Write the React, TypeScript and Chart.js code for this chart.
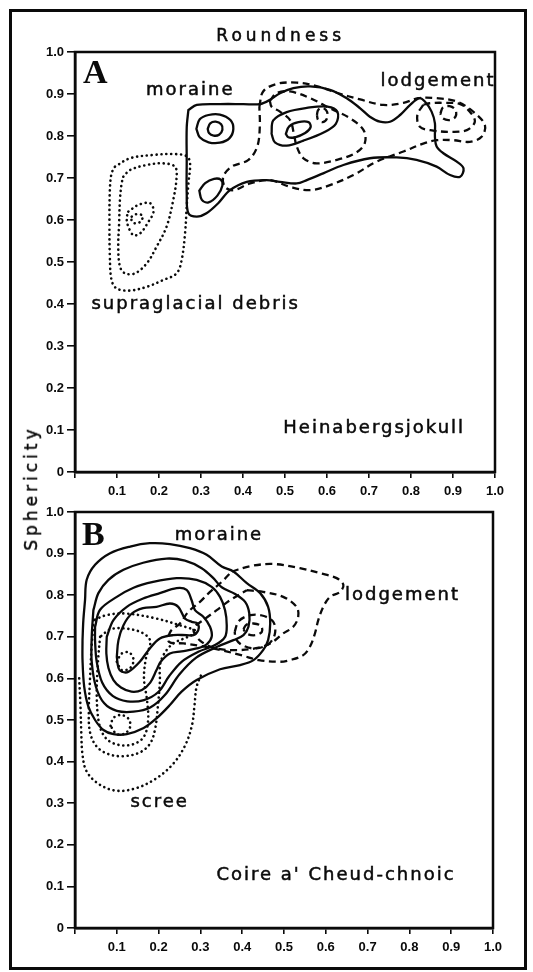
import React, { useEffect, useRef } from "react";
import { Chart, registerables } from "chart.js";

Chart.register(...registerables);

type Pt = [number, number];
type Kind = "solid" | "dashed" | "dotted";

// ---- axis ticks -----------------------------------------------------------
const tickValues = [0, 0.1, 0.2, 0.3, 0.4, 0.5, 0.6, 0.7, 0.8, 0.9, 1.0];
const yTickLabels = ["0", "0.1", "0.2", "0.3", "0.4", "0.5", "0.6", "0.7", "0.8", "0.9", "1.0"];
const xTickLabels = ["", "0.1", "0.2", "0.3", "0.4", "0.5", "0.6", "0.7", "0.8", "0.9", "1.0"];

// ---- A: Heinabergsjokull (x = roundness, y = sphericity) -------------------
const moraineA1: Pt[] = [
  [0.270, 0.862], [0.290, 0.874], [0.345, 0.876], [0.401, 0.876], [0.440, 0.876], [0.464, 0.886],
  [0.488, 0.902], [0.520, 0.914], [0.560, 0.918], [0.607, 0.910], [0.647, 0.890], [0.679, 0.866],
  [0.702, 0.846], [0.726, 0.834], [0.750, 0.834], [0.774, 0.850], [0.798, 0.874], [0.820, 0.890],
  [0.833, 0.882], [0.849, 0.858], [0.857, 0.830], [0.857, 0.798], [0.861, 0.775], [0.877, 0.759],
  [0.909, 0.739], [0.925, 0.723], [0.917, 0.703], [0.893, 0.707], [0.861, 0.727], [0.813, 0.743],
  [0.766, 0.749], [0.702, 0.747], [0.639, 0.731], [0.591, 0.711], [0.552, 0.695], [0.528, 0.687],
  [0.488, 0.691], [0.456, 0.695], [0.409, 0.691], [0.369, 0.671], [0.341, 0.640], [0.313, 0.616],
  [0.290, 0.608], [0.270, 0.616], [0.266, 0.663], [0.266, 0.740], [0.266, 0.820],
];
const moraineA2: Pt[] = [
  [0.289, 0.817], [0.297, 0.840], [0.318, 0.850], [0.345, 0.851], [0.370, 0.838], [0.377, 0.817],
  [0.368, 0.795], [0.345, 0.784], [0.318, 0.785], [0.297, 0.797],
];
const moraineA3: Pt[] = [
  [0.316, 0.817], [0.322, 0.830], [0.335, 0.834], [0.348, 0.828], [0.351, 0.815], [0.343, 0.803],
  [0.330, 0.801], [0.319, 0.807],
];
const moraineA4: Pt[] = [
  [0.296, 0.670], [0.302, 0.648], [0.318, 0.642], [0.339, 0.658], [0.351, 0.682], [0.347, 0.696],
  [0.331, 0.698], [0.310, 0.688],
];
const moraineA5: Pt[] = [
  [0.468, 0.805], [0.472, 0.837], [0.504, 0.857], [0.552, 0.867], [0.601, 0.870], [0.625, 0.857],
  [0.621, 0.829], [0.593, 0.809], [0.544, 0.789], [0.504, 0.777], [0.476, 0.785],
];
const moraineA6: Pt[] = [
  [0.502, 0.805], [0.510, 0.823], [0.532, 0.833], [0.556, 0.833], [0.561, 0.821], [0.548, 0.807],
  [0.524, 0.797], [0.508, 0.797],
];
const lodgementA1: Pt[] = [
  [0.439, 0.870], [0.448, 0.906], [0.480, 0.924], [0.528, 0.927], [0.575, 0.919], [0.623, 0.903],
  [0.679, 0.887], [0.734, 0.874], [0.782, 0.879], [0.817, 0.890], [0.861, 0.890], [0.909, 0.882],
  [0.948, 0.858], [0.976, 0.826], [0.968, 0.798], [0.940, 0.786], [0.901, 0.790], [0.861, 0.790],
  [0.829, 0.782], [0.782, 0.763], [0.718, 0.739], [0.663, 0.707], [0.607, 0.683], [0.560, 0.671],
  [0.512, 0.679], [0.464, 0.695], [0.417, 0.687], [0.377, 0.671], [0.357, 0.679], [0.353, 0.703],
  [0.373, 0.727], [0.413, 0.743], [0.434, 0.775], [0.440, 0.822],
];
const lodgementA2: Pt[] = [
  [0.464, 0.884], [0.480, 0.902], [0.512, 0.906], [0.560, 0.890], [0.607, 0.866], [0.655, 0.842],
  [0.687, 0.814], [0.690, 0.783], [0.667, 0.759], [0.623, 0.743], [0.575, 0.735], [0.544, 0.747],
  [0.528, 0.775], [0.521, 0.806], [0.512, 0.838], [0.488, 0.858], [0.468, 0.870],
];
const lodgementA3: Pt[] = [
  [0.576, 0.850], [0.579, 0.862], [0.590, 0.867], [0.600, 0.858], [0.600, 0.842], [0.590, 0.833],
  [0.579, 0.838],
];
const lodgementA4: Pt[] = [
  [0.829, 0.874], [0.815, 0.850], [0.821, 0.822], [0.853, 0.813], [0.893, 0.810], [0.933, 0.814],
  [0.952, 0.834], [0.940, 0.858], [0.917, 0.876], [0.877, 0.879], [0.845, 0.878],
];
const lodgementA5: Pt[] = [
  [0.870, 0.853], [0.876, 0.868], [0.892, 0.871], [0.906, 0.862], [0.906, 0.846], [0.892, 0.838],
  [0.876, 0.842],
];
const debrisA1: Pt[] = [
  [0.095, 0.727], [0.131, 0.747], [0.187, 0.755], [0.234, 0.757], [0.266, 0.752], [0.274, 0.735],
  [0.270, 0.687], [0.266, 0.632], [0.262, 0.568], [0.254, 0.505], [0.242, 0.473], [0.210, 0.457],
  [0.171, 0.441], [0.131, 0.432], [0.099, 0.437], [0.087, 0.457], [0.083, 0.513], [0.082, 0.592],
  [0.083, 0.671], [0.087, 0.711],
];
const debrisA2: Pt[] = [
  [0.115, 0.703], [0.131, 0.719], [0.171, 0.731], [0.210, 0.735], [0.238, 0.727], [0.242, 0.703],
  [0.234, 0.648], [0.218, 0.584], [0.194, 0.536], [0.171, 0.497], [0.143, 0.473], [0.119, 0.473],
  [0.107, 0.489], [0.103, 0.536], [0.105, 0.592], [0.107, 0.648], [0.111, 0.687],
];
const debrisA3: Pt[] = [
  [0.127, 0.620], [0.151, 0.636], [0.179, 0.640], [0.187, 0.620], [0.175, 0.596], [0.155, 0.568],
  [0.139, 0.564], [0.127, 0.584], [0.123, 0.604],
];
const debrisA4: Pt[] = [
  [0.135, 0.608], [0.147, 0.614], [0.161, 0.610], [0.156, 0.596], [0.143, 0.592], [0.135, 0.598],
];

// ---- B: Coire a' Cheud-chnoic ----------------------------------------------
const moraineB1: Pt[] = [
  [0.018, 0.692], [0.020, 0.740], [0.024, 0.788], [0.028, 0.837], [0.048, 0.873], [0.084, 0.901],
  [0.132, 0.917], [0.179, 0.925], [0.227, 0.923], [0.275, 0.913], [0.315, 0.897], [0.351, 0.869],
  [0.379, 0.857], [0.411, 0.829], [0.443, 0.805], [0.462, 0.772], [0.467, 0.732], [0.462, 0.692],
  [0.450, 0.668], [0.427, 0.644], [0.395, 0.632], [0.347, 0.622], [0.291, 0.596], [0.255, 0.568],
  [0.227, 0.536], [0.195, 0.504], [0.163, 0.480], [0.124, 0.466], [0.092, 0.466], [0.068, 0.476],
  [0.048, 0.500], [0.032, 0.532], [0.022, 0.580], [0.018, 0.644],
];
const moraineB2: Pt[] = [
  [0.044, 0.764], [0.056, 0.805], [0.080, 0.837], [0.116, 0.861], [0.163, 0.878], [0.219, 0.888],
  [0.263, 0.883], [0.303, 0.865], [0.331, 0.841], [0.351, 0.819], [0.383, 0.803], [0.407, 0.784],
  [0.417, 0.756], [0.415, 0.724], [0.403, 0.704], [0.379, 0.692], [0.340, 0.676], [0.290, 0.650],
  [0.250, 0.610], [0.215, 0.560], [0.180, 0.530], [0.140, 0.520], [0.100, 0.522], [0.070, 0.540],
  [0.050, 0.580], [0.040, 0.640], [0.040, 0.700],
];
const moraineB3: Pt[] = [
  [0.048, 0.724], [0.060, 0.765], [0.100, 0.796], [0.140, 0.818], [0.187, 0.832], [0.243, 0.841],
  [0.291, 0.837], [0.327, 0.820], [0.347, 0.796], [0.359, 0.764], [0.363, 0.728], [0.359, 0.700],
  [0.335, 0.680], [0.295, 0.664], [0.255, 0.640], [0.225, 0.605], [0.200, 0.568], [0.165, 0.548],
  [0.125, 0.545], [0.090, 0.558], [0.065, 0.590], [0.052, 0.640], [0.048, 0.690],
];
const moraineB4: Pt[] = [
  [0.076, 0.700], [0.092, 0.740], [0.124, 0.772], [0.163, 0.792], [0.203, 0.805], [0.243, 0.817],
  [0.267, 0.813], [0.279, 0.788], [0.287, 0.764], [0.307, 0.748], [0.323, 0.724], [0.327, 0.700],
  [0.315, 0.682], [0.291, 0.672], [0.255, 0.665], [0.227, 0.660], [0.205, 0.640], [0.195, 0.620],
  [0.180, 0.590], [0.160, 0.572], [0.135, 0.568], [0.110, 0.578], [0.092, 0.596], [0.080, 0.625],
  [0.075, 0.660],
];
const moraineB5: Pt[] = [
  [0.100, 0.652], [0.104, 0.692], [0.116, 0.728], [0.136, 0.756], [0.163, 0.769], [0.195, 0.772],
  [0.227, 0.780], [0.247, 0.772], [0.263, 0.744], [0.279, 0.736], [0.293, 0.732], [0.295, 0.716],
  [0.283, 0.704], [0.267, 0.704], [0.235, 0.704], [0.203, 0.696], [0.179, 0.672], [0.155, 0.640],
  [0.128, 0.616], [0.112, 0.616], [0.104, 0.625],
];
const lodgementB1: Pt[] = [
  [0.375, 0.857], [0.420, 0.870], [0.474, 0.875], [0.538, 0.865], [0.586, 0.853], [0.626, 0.841],
  [0.642, 0.825], [0.634, 0.808], [0.610, 0.796], [0.594, 0.772], [0.582, 0.740], [0.574, 0.708],
  [0.562, 0.676], [0.546, 0.656], [0.514, 0.644], [0.490, 0.640], [0.440, 0.644], [0.400, 0.655],
  [0.350, 0.668], [0.300, 0.678], [0.260, 0.684], [0.225, 0.688], [0.228, 0.712], [0.251, 0.732],
  [0.271, 0.760], [0.299, 0.784], [0.323, 0.808], [0.351, 0.832],
];
const lodgementB2: Pt[] = [
  [0.411, 0.812], [0.450, 0.808], [0.498, 0.796], [0.530, 0.772], [0.534, 0.748], [0.522, 0.724],
  [0.498, 0.708], [0.467, 0.684], [0.430, 0.672], [0.387, 0.668], [0.339, 0.672], [0.300, 0.690],
  [0.283, 0.720], [0.307, 0.740], [0.339, 0.764], [0.371, 0.788],
];
const lodgementB3: Pt[] = [
  [0.382, 0.712], [0.392, 0.738], [0.420, 0.752], [0.452, 0.750], [0.475, 0.735], [0.478, 0.706],
  [0.462, 0.682], [0.430, 0.672], [0.400, 0.680], [0.385, 0.695],
];
const lodgementB4: Pt[] = [
  [0.403, 0.718], [0.410, 0.729], [0.427, 0.732], [0.445, 0.726], [0.447, 0.712], [0.432, 0.704],
  [0.412, 0.707],
];
const screeB1: Pt[] = [
  [0.010, 0.600], [0.013, 0.536], [0.015, 0.472], [0.018, 0.416], [0.028, 0.376], [0.057, 0.346],
  [0.098, 0.330], [0.146, 0.336], [0.195, 0.360], [0.236, 0.396], [0.264, 0.440], [0.280, 0.488],
  [0.286, 0.536], [0.291, 0.580], [0.305, 0.616],
];
const screeB2: Pt[] = [
  [0.045, 0.740], [0.040, 0.680], [0.036, 0.600], [0.033, 0.520], [0.036, 0.470], [0.052, 0.436],
  [0.080, 0.418], [0.115, 0.413], [0.155, 0.422], [0.180, 0.444], [0.192, 0.480], [0.198, 0.530],
  [0.203, 0.590], [0.205, 0.640], [0.230, 0.680], [0.270, 0.700], [0.292, 0.712], [0.250, 0.728],
  [0.190, 0.745], [0.120, 0.756], [0.075, 0.752],
];
const screeB3: Pt[] = [
  [0.060, 0.700], [0.055, 0.640], [0.052, 0.560], [0.058, 0.490], [0.075, 0.455], [0.105, 0.440],
  [0.140, 0.442], [0.165, 0.460], [0.175, 0.500], [0.172, 0.550], [0.165, 0.600], [0.170, 0.650],
  [0.180, 0.690], [0.160, 0.710], [0.120, 0.720], [0.085, 0.718],
];
const screeB4: Pt[] = [
  [0.085, 0.486], [0.092, 0.505], [0.110, 0.512], [0.128, 0.503], [0.132, 0.484], [0.120, 0.468],
  [0.100, 0.466],
];
const screeB5: Pt[] = [
  [0.100, 0.640], [0.112, 0.660], [0.130, 0.662], [0.140, 0.645], [0.132, 0.625], [0.112, 0.620],
];

// ---- annotations (data coordinates) ----------------------------------------
const labelsA = [
  { text: "moraine", x: 0.272, y: 0.908 },
  { text: "lodgement", x: 0.862, y: 0.929 },
  { text: "supraglacial debris", x: 0.285, y: 0.4 },
  { text: "Heinabergsjokull", x: 0.71, y: 0.105 },
];
const labelsB = [
  { text: "moraine", x: 0.342, y: 0.945 },
  { text: "lodgement", x: 0.781, y: 0.8 },
  { text: "scree", x: 0.2, y: 0.302 },
  { text: "Coire a' Cheud-chnoic", x: 0.622, y: 0.127 },
];

type Contour = { kind: Kind; points: Pt[]; closed?: boolean };

const contoursA: Contour[] = [
  { kind: "solid", points: moraineA1 },
  { kind: "solid", points: moraineA2 },
  { kind: "solid", points: moraineA3 },
  { kind: "solid", points: moraineA4 },
  { kind: "solid", points: moraineA5 },
  { kind: "solid", points: moraineA6 },
  { kind: "dashed", points: lodgementA1 },
  { kind: "dashed", points: lodgementA2 },
  { kind: "dashed", points: lodgementA3 },
  { kind: "dashed", points: lodgementA4 },
  { kind: "dashed", points: lodgementA5 },
  { kind: "dotted", points: debrisA1 },
  { kind: "dotted", points: debrisA2 },
  { kind: "dotted", points: debrisA3 },
  { kind: "dotted", points: debrisA4 },
];

const contoursB: Contour[] = [
  { kind: "solid", points: moraineB1 },
  { kind: "solid", points: moraineB2 },
  { kind: "solid", points: moraineB3 },
  { kind: "solid", points: moraineB4 },
  { kind: "solid", points: moraineB5 },
  { kind: "dashed", points: lodgementB1 },
  { kind: "dashed", points: lodgementB2 },
  { kind: "dashed", points: lodgementB3 },
  { kind: "dashed", points: lodgementB4 },
  { kind: "dotted", points: screeB1, closed: false },
  { kind: "dotted", points: screeB2 },
  { kind: "dotted", points: screeB3 },
  { kind: "dotted", points: screeB4 },
  { kind: "dotted", points: screeB5 },
];

const INK = "#0a0a0a";
const LINE_STYLES: Record<Kind, any> = {
  solid: { borderWidth: 2.3, borderDash: [], borderCapStyle: "round" },
  dashed: { borderWidth: 2.3, borderDash: [7, 4.5], borderCapStyle: "butt" },
  dotted: { borderWidth: 2.6, borderDash: [0.1, 4.8], borderCapStyle: "round" },
};

const TEXT_FONT = "18px 'DejaVu Sans', sans-serif";
const TICK_FONT = { family: "'Liberation Sans', Arial, sans-serif", size: 13, weight: "bold" as const };

type Panel = {
  letter: string;
  contours: Contour[];
  labels: { text: string; x: number; y: number }[];
  letterPos: { x: number; y: number };
  title?: string;
  height: number;
  padding: { top: number; right: number; bottom: number; left: number };
  xAxisHeight: number;
};

const panelA: Panel = {
  letter: "A",
  contours: contoursA,
  labels: labelsA,
  letterPos: { x: 0.019, y: 0.926 },
  title: "Roundness",
  height: 500,
  padding: { top: 52, right: 38, bottom: 0, left: 0 },
  xAxisHeight: 28,
};

const panelB: Panel = {
  letter: "B",
  contours: contoursB,
  labels: labelsB,
  letterPos: { x: 0.017, y: 0.921 },
  height: 472,
  padding: { top: 12, right: 40, bottom: 0, left: 0 },
  xAxisHeight: 44,
};

function buildDatasets(contours: Contour[]) {
  return contours.map((c) => {
    const pts = c.closed === false ? c.points : c.points.concat([c.points[0]]);
    return {
      data: pts.map(([x, y]) => ({ x, y })),
      showLine: true,
      pointRadius: 0,
      pointHoverRadius: 0,
      borderColor: INK,
      backgroundColor: INK,
      fill: false,
      tension: 0.35,
      ...LINE_STYLES[c.kind],
    };
  });
}

function decorPlugin(panel: Panel) {
  return {
    id: "panelDecor" + panel.letter,
    afterDraw(chart: any) {
      const { ctx, chartArea, scales } = chart;
      const xs = scales.x;
      const ys = scales.y;
      ctx.save();
      // plot frame
      ctx.strokeStyle = INK;
      ctx.lineWidth = 2.5;
      ctx.strokeRect(chartArea.left, chartArea.top, chartArea.right - chartArea.left, chartArea.bottom - chartArea.top);

      ctx.fillStyle = INK;
      // panel letter
      ctx.font = "bold 34px 'Liberation Serif', 'Times New Roman', serif";
      ctx.textAlign = "left";
      ctx.textBaseline = "alphabetic";
      (ctx as any).letterSpacing = "0px";
      ctx.fillText(panel.letter, xs.getPixelForValue(panel.letterPos.x), ys.getPixelForValue(panel.letterPos.y));

      // group and site labels
      ctx.font = TEXT_FONT;
      ctx.textAlign = "center";
      ctx.textBaseline = "middle";
      (ctx as any).letterSpacing = "2px";
      ctx.lineWidth = 0.5;
      for (const l of panel.labels) {
        const px = xs.getPixelForValue(l.x) + 1;
        const py = ys.getPixelForValue(l.y);
        ctx.fillText(l.text, px, py);
        ctx.strokeText(l.text, px, py);
      }

      // horizontal axis title above the upper panel
      if (panel.title) {
        ctx.font = "17px 'DejaVu Sans', sans-serif";
        (ctx as any).letterSpacing = "4px";
        const px = xs.getPixelForValue(0.485) + 2;
        ctx.fillText(panel.title, px, chartArea.top - 15);
        ctx.strokeText(panel.title, px, chartArea.top - 15);
      }
      ctx.restore();
    },
  };
}

function makeConfig(panel: Panel): any {
  return {
    type: "scatter",
    data: { datasets: buildDatasets(panel.contours) },
    options: {
      animation: false,
      responsive: false,
      events: [],
      layout: { padding: panel.padding },
      plugins: {
        legend: { display: false },
        tooltip: { enabled: false },
        title: { display: false },
      },
      scales: {
        x: {
          type: "linear",
          min: 0,
          max: 1,
          afterBuildTicks: (s: any) => {
            s.ticks = tickValues.map((v) => ({ value: v }));
          },
          afterFit: (s: any) => {
            s.height = panel.xAxisHeight;
          },
          ticks: {
            callback: (_v: any, i: number) => xTickLabels[i],
            font: TICK_FONT,
            color: INK,
            padding: 6,
            maxRotation: 0,
            autoSkip: false,
          },
          grid: { drawOnChartArea: false, drawTicks: true, tickLength: 6, color: INK, lineWidth: 1.6 },
          border: { display: true, color: INK, width: 2.5 },
        },
        y: {
          type: "linear",
          min: 0,
          max: 1,
          afterBuildTicks: (s: any) => {
            s.ticks = tickValues.map((v) => ({ value: v }));
          },
          afterFit: (s: any) => {
            s.width = 75;
          },
          ticks: {
            callback: (_v: any, i: number) => yTickLabels[i],
            font: TICK_FONT,
            color: INK,
            padding: 3,
            autoSkip: false,
          },
          grid: { drawOnChartArea: false, drawTicks: true, tickLength: 8, color: INK, lineWidth: 1.6 },
          border: { display: true, color: INK, width: 2.5 },
        },
      },
    },
    plugins: [decorPlugin(panel)],
  };
}

function PanelChart({ panel, top }: { panel: Panel; top: number }) {
  const ref = useRef<HTMLCanvasElement | null>(null);
  useEffect(() => {
    if (!ref.current) return;
    const chart = new Chart(ref.current, makeConfig(panel));
    return () => chart.destroy();
  }, [panel]);
  return (
    <canvas
      ref={ref}
      width={533}
      height={panel.height}
      style={{ position: "absolute", left: 0, top, width: 533, height: panel.height }}
    />
  );
}

export default function App() {
  return (
    <div style={{ position: "absolute", left: 0, top: 0, width: 533, height: 972, background: "#fff" }}>
      <div
        style={{
          position: "absolute",
          left: 9,
          top: 9,
          width: 518,
          height: 961,
          border: "3.5px solid #0a0a0a",
          boxSizing: "border-box",
        }}
      />
      <PanelChart panel={panelA} top={0} />
      <PanelChart panel={panelB} top={500} />
      <div
        style={{
          position: "absolute",
          left: 31,
          top: 488,
          transform: "translate(-50%, -50%) rotate(-90deg)",
          font: "17px 'DejaVu Sans', sans-serif",
          letterSpacing: "4px",
          whiteSpace: "nowrap",
          color: "#0a0a0a",
          WebkitTextStroke: "0.5px #0a0a0a",
        }}
      >
        Sphericity
      </div>
    </div>
  );
}
